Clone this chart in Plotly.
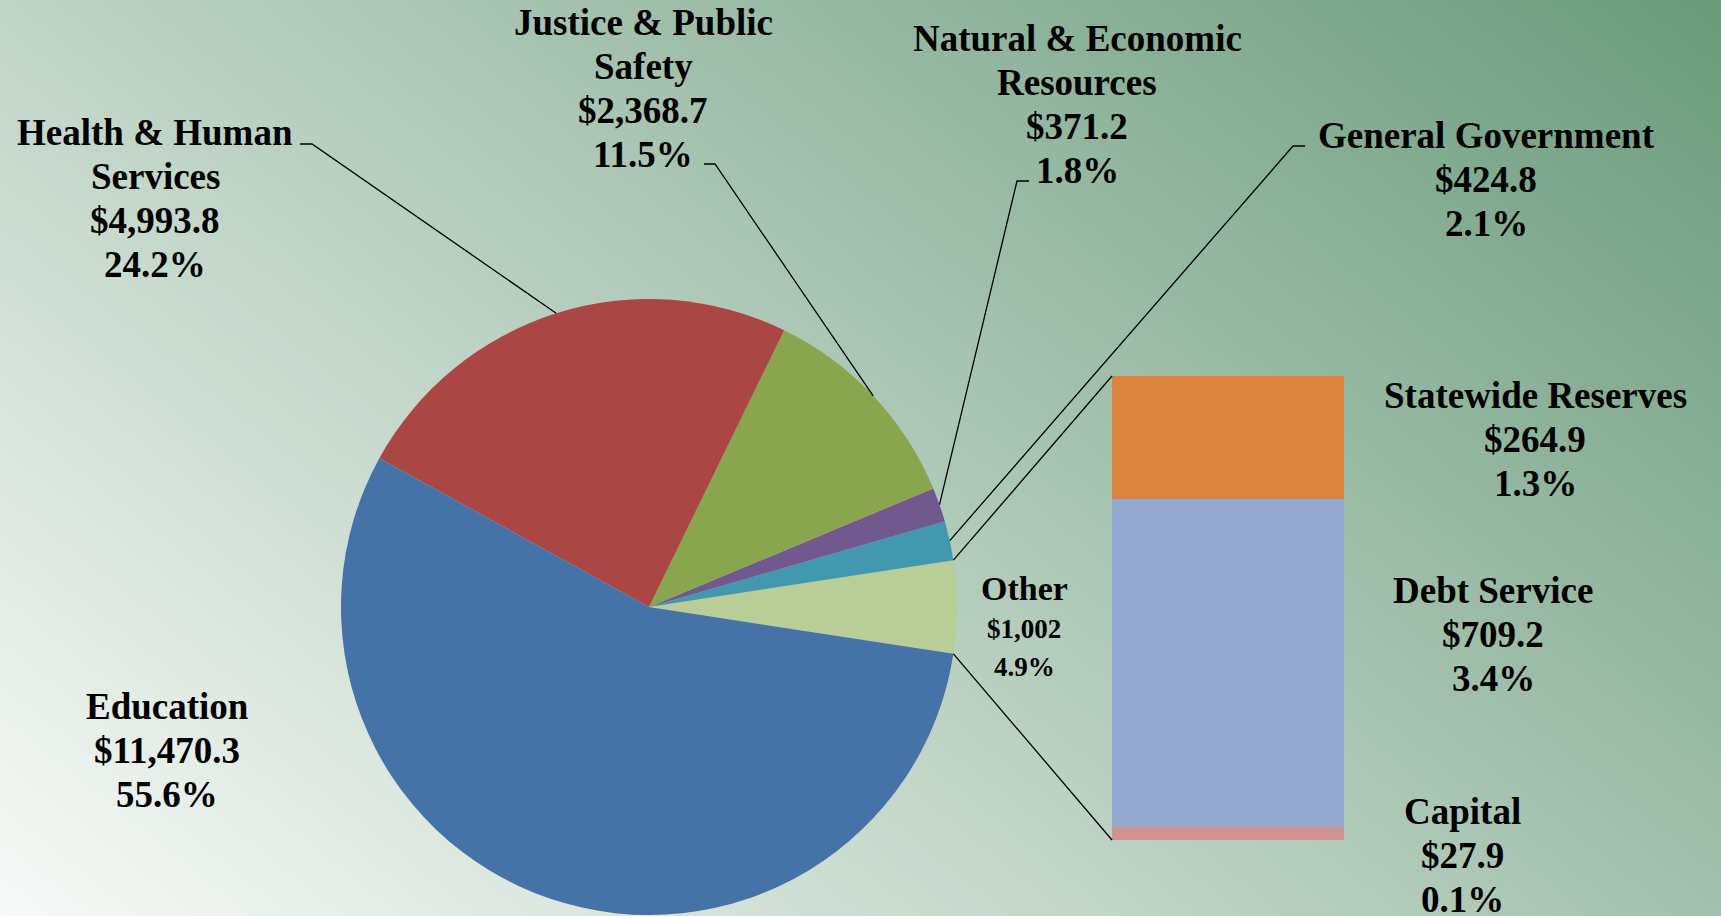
import math
import numpy as np
import plotly.graph_objects as go

# ---------------- data ----------------
pie_labels = ["Other", "General Government", "Natural & Economic<br>Resources",
              "Justice & Public<br>Safety", "Health & Human<br>Services", "Education"]
bar_labels = ["Capital", "Debt Service", "Statewide Reserves"]
bar_values = [27.9, 709.2, 264.9]
main_values = [424.8, 371.2, 2368.7, 4993.8, 11470.3]  # GenGov, Natural, Justice, Health, Education
other_value = sum(bar_values)
pie_values = [other_value] + main_values
total = sum(pie_values)

pie_colors = ["#B9CD96", "#4198AF", "#71588F", "#89A54E", "#AA4643", "#4572A7"]
bar_colors = ["#D19392", "#93A9CF", "#DB843D"]

# ---------------- layout constants (pixels) ----------------
W, H = 1721, 916
CX, CY, R = 649, 607, 308          # pie center / radius
BX0, BX1, BY0, BY1 = 1112, 1344, 840, 376  # bar box (left, right, bottom, top)
FONT = "Liberation Serif"

fig = go.Figure()

# background gradient
gx = np.linspace(0, W, 60)
gy = np.linspace(0, H, 40)
GX, GY = np.meshgrid(gx, gy)
gz = 0.6 * GX / W + 0.4 * (1 - GY / H)
fig.add_trace(go.Heatmap(x=gx, y=gy, z=gz, zsmooth="best", showscale=False,
                         colorscale=[[0, "#F8FAF8"], [1, "#6A9B7C"]], zmin=0, zmax=1,
                         hoverinfo="skip", xaxis="x", yaxis="y"))

# pie (counterclockwise: rotation is the boundary between 1st and 2nd slice)
other_frac = other_value / total
rotation = 90 - other_frac * 360 / 2
fig.add_trace(go.Pie(values=pie_values, labels=pie_labels, sort=False,
                     direction="counterclockwise", rotation=rotation,
                     marker=dict(colors=pie_colors, line=dict(width=0)),
                     textinfo="none", showlegend=False, hoverinfo="label+value",
                     domain=dict(x=[(CX - R) / W, (CX + R) / W],
                                 y=[(H - CY - R) / H, (H - CY + R) / H])))

# stacked bar of "Other"
for lab, v, c in zip(bar_labels, bar_values, bar_colors):
    fig.add_trace(go.Bar(x=[0], y=[v], name=lab, marker=dict(color=c, line=dict(width=0)),
                         width=1, showlegend=False, xaxis="x2", yaxis="y2"))

# ---------------- helpers ----------------
def slice_angles():
    """start/end math angles (deg, ccw from +x) for each pie slice"""
    a = -other_frac * 360 / 2
    out = []
    for v in pie_values:
        span = v / total * 360
        out.append((a, a + span))
        a += span
    return out

def edge_pt(ang):
    return CX + R * math.cos(math.radians(ang)), CY - R * math.sin(math.radians(ang))

angs = slice_angles()
mid = [(a0 + a1) / 2 for a0, a1 in angs]

def path(points):
    return "M " + " L ".join(f"{x:.1f},{y:.1f}" for x, y in points)

line_style = dict(color="black", width=1.3)
shapes = []
# leader lines: Health, Justice, Natural, GenGov
shapes.append(dict(type="path", path=path([(300, 144), (312, 144), edge_pt(mid[4])])))
shapes.append(dict(type="path", path=path([(704, 164), (715, 164), edge_pt(mid[3])])))
shapes.append(dict(type="path", path=path([edge_pt(mid[2]), (1017, 181), (1029, 181)])))
shapes.append(dict(type="path", path=path([edge_pt(mid[1]), (1293, 146), (1305, 146)])))
# connectors Other slice -> bar
top_pt = edge_pt(angs[0][1])
bot_pt = edge_pt(angs[0][0])
shapes.append(dict(type="line", x0=top_pt[0], y0=top_pt[1], x1=BX0, y1=BY1))
shapes.append(dict(type="line", x0=bot_pt[0], y0=bot_pt[1], x1=BX0, y1=BY0))
for s in shapes:
    s.update(xref="x", yref="y", line=line_style, layer="above")

annotations = []
def label(lines, cx, cy_first, pitch=44, size=37, font=FONT):
    for i, t in enumerate(lines):
        fs = size[i] if isinstance(size, (list, tuple)) else size
        y = cy_first[i] if isinstance(cy_first, (list, tuple)) else cy_first + i * pitch
        annotations.append(dict(x=cx, y=y, xref="x", yref="y", text=f"<b>{t}</b>",
                                showarrow=False, xanchor="center", yanchor="middle",
                                font=dict(family=font, size=fs, color="black")))

def money(v, d=1):
    return "$" + f"{v:,.{d}f}"

def pct(v):
    return f"{v / total * 100:.1f}%"

label(["Health & Human", "Services", money(main_values[3]), pct(main_values[3])], 155, 132)
label(["Justice & Public", "Safety", money(main_values[2]), pct(main_values[2])], 643, 22)
label(["Natural & Economic", "Resources", money(main_values[1]), pct(main_values[1])], 1077, 38)
label(["General Government", money(main_values[0]), pct(main_values[0])], 1486, 135)
label(["Education", money(main_values[4]), pct(main_values[4])], 167, 706)
label(["Statewide Reserves", money(bar_values[2]), pct(bar_values[2])], 1535, 395)
label(["Debt Service", money(bar_values[1]), pct(bar_values[1])], 1493, 590)
label(["Capital", money(bar_values[0]), pct(bar_values[0])], 1462, 811)
label(["Other", money(other_value, 0), pct(other_value)], 1024, [588, 629, 667],
      size=[34, 27, 27], font="Liberation Serif")

fig.update_layout(
    width=W, height=H, margin=dict(l=0, r=0, t=0, b=0),
    paper_bgcolor="#C8D8CE", plot_bgcolor="rgba(0,0,0,0)",
    barmode="stack", bargap=0,
    xaxis=dict(domain=[0, 1], range=[0, W], visible=False, fixedrange=True),
    yaxis=dict(domain=[0, 1], range=[H, 0], visible=False, fixedrange=True),
    xaxis2=dict(domain=[BX0 / W, BX1 / W], range=[-0.5, 0.5], visible=False,
                anchor="y2", fixedrange=True),
    yaxis2=dict(domain=[(H - BY0) / H, (H - BY1) / H], range=[0, other_value],
                visible=False, anchor="x2", fixedrange=True),
    shapes=shapes, annotations=annotations,
)

fig.write_html("out.html", config={"displayModeBar": False},
               post_script="document.body.style.margin='0';document.body.style.overflow='hidden';")
